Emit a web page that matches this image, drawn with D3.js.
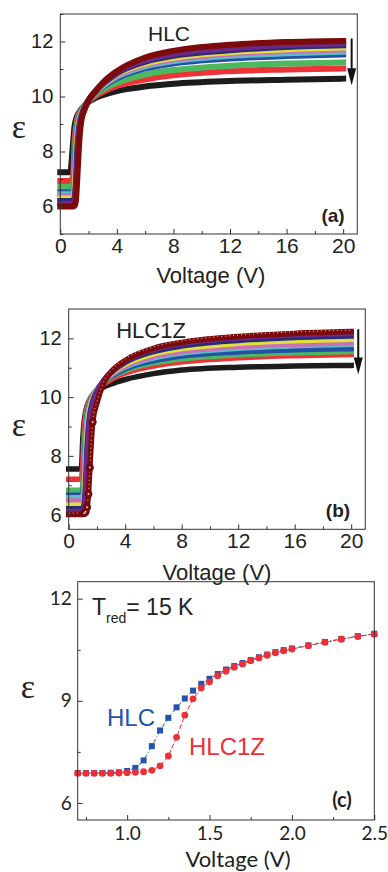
<!DOCTYPE html>
<meta charset="utf-8">
<head>
    <title>Dielectric permittivity vs voltage</title>
</head>
<style>
    body { margin: 0; background: #fff; }
    svg { display: block; }
</style>
<body>
<svg id="fig" width="388" height="872"></svg>
<script src="https://cdnjs.cloudflare.com/ajax/libs/d3/7.8.5/d3.min.js"></script>
<script>
    // voltage grid shared by the curves of panels (a) and (b)
    var voltGrid = [0, 0.7, 0.9, 1.0, 1.1, 1.2, 1.3, 1.4, 1.5, 1.7, 2, 2.5, 3, 4, 6, 8, 12, 16, 20];

    // curve colours, bottom (black) to top (maroon) at 20 V
    var curveColors = ["#1c1c1c", "#ee3237", "#4db85e", "#2251a6", "#5cbfc8",
                       "#c970b8", "#e3df3a", "#2a2a7a", "#6a2a86", "#7c0a0a"];

    // (a) HLC
    var hlcCurves = [
        [7.25, 7.25, 8.3, 8.9, 9.15, 9.3, 9.4, 9.48, 9.55, 9.65, 9.8, 9.95, 10.05, 10.2, 10.36, 10.46, 10.56, 10.61, 10.65],
        [6.93, 6.93, 7.1, 8.3, 8.9, 9.2, 9.35, 9.45, 9.52, 9.65, 9.82, 10.02, 10.16, 10.38, 10.62, 10.77, 10.92, 10.98, 11.02],
        [6.72, 6.72, 6.8, 7.6, 8.6, 9.05, 9.28, 9.4, 9.5, 9.65, 9.84, 10.08, 10.25, 10.5, 10.8, 10.96, 11.12, 11.2, 11.24],
        [6.52, 6.52, 6.55, 7.0, 8.3, 8.9, 9.2, 9.35, 9.46, 9.64, 9.86, 10.14, 10.35, 10.66, 11.02, 11.2, 11.38, 11.47, 11.53],
        [6.45, 6.45, 6.47, 6.8, 8.0, 8.75, 9.1, 9.3, 9.43, 9.62, 9.86, 10.16, 10.38, 10.72, 11.1, 11.29, 11.48, 11.57, 11.63],
        [6.37, 6.37, 6.38, 6.6, 7.7, 8.6, 9.0, 9.25, 9.4, 9.61, 9.86, 10.17, 10.4, 10.76, 11.15, 11.35, 11.55, 11.65, 11.71],
        [6.29, 6.29, 6.3, 6.45, 7.3, 8.4, 8.9, 9.2, 9.37, 9.6, 9.86, 10.18, 10.42, 10.8, 11.2, 11.41, 11.61, 11.72, 11.78],
        [6.2, 6.2, 6.2, 6.3, 6.9, 8.1, 8.75, 9.1, 9.32, 9.58, 9.86, 10.19, 10.45, 10.84, 11.26, 11.48, 11.68, 11.8, 11.86],
        [6.1, 6.1, 6.1, 6.15, 6.6, 7.7, 8.55, 9.0, 9.25, 9.55, 9.86, 10.2, 10.48, 10.88, 11.32, 11.55, 11.76, 11.87, 11.93],
        [6.0, 6.0, 6.0, 6.02, 6.2, 7.0, 8.0, 8.75, 9.15, 9.5, 9.86, 10.2, 10.5, 10.92, 11.42, 11.66, 11.88, 11.98, 12.02]
    ];

    // (b) HLC1Z
    var hlc1zCurves = [
        [7.55, 7.55, 7.6, 8.6, 9.2, 9.5, 9.7, 9.82, 9.92, 10.05, 10.2, 10.35, 10.45, 10.6, 10.8, 10.92, 11.02, 11.06, 11.08],
        [7.2, 7.2, 7.22, 7.8, 8.9, 9.4, 9.65, 9.8, 9.92, 10.08, 10.25, 10.45, 10.6, 10.82, 11.06, 11.2, 11.34, 11.41, 11.45],
        [6.83, 6.83, 6.84, 7.0, 8.2, 9.1, 9.5, 9.72, 9.86, 10.05, 10.25, 10.5, 10.67, 10.9, 11.16, 11.3, 11.44, 11.51, 11.55],
        [6.66, 6.66, 6.66, 6.75, 7.6, 8.8, 9.35, 9.62, 9.8, 10.02, 10.25, 10.52, 10.7, 10.96, 11.24, 11.4, 11.54, 11.61, 11.65],
        [6.57, 6.57, 6.57, 6.62, 7.2, 8.5, 9.2, 9.52, 9.74, 10.0, 10.25, 10.54, 10.74, 11.02, 11.33, 11.5, 11.66, 11.75, 11.8],
        [6.46, 6.46, 6.46, 6.5, 6.9, 8.1, 9.0, 9.42, 9.67, 9.96, 10.24, 10.55, 10.76, 11.06, 11.38, 11.55, 11.72, 11.8, 11.85],
        [6.32, 6.32, 6.32, 6.35, 6.6, 7.6, 8.7, 9.25, 9.57, 9.92, 10.22, 10.57, 10.8, 11.12, 11.47, 11.65, 11.83, 11.92, 11.97],
        [6.2, 6.2, 6.2, 6.22, 6.4, 7.1, 8.3, 9.0, 9.42, 9.85, 10.2, 10.58, 10.83, 11.18, 11.55, 11.74, 11.93, 12.03, 12.08],
        [6.11, 6.11, 6.11, 6.12, 6.2, 6.7, 7.8, 8.7, 9.2, 9.75, 10.15, 10.58, 10.86, 11.23, 11.62, 11.82, 12.02, 12.12, 12.17],
        [6.0, 6.0, 6.0, 6.0, 6.05, 6.1, 6.25, 6.7, 7.6, 9.15, 9.8, 10.5, 10.85, 11.25, 11.66, 11.86, 12.06, 12.17, 12.23]
    ];

    // (c) T_red = 15 K
    var cVolt = [0.70, 0.75, 0.80, 0.85, 0.90, 0.95, 1.00, 1.05, 1.10, 1.15, 1.20, 1.25, 1.30, 1.35, 1.40, 1.45,
                 1.50, 1.55, 1.60, 1.65, 1.70, 1.75, 1.80, 1.85, 1.90, 1.95, 2.00, 2.10, 2.20, 2.30, 2.40, 2.50];
    var cHLC = [6.88, 6.88, 6.88, 6.88, 6.89, 6.90, 6.94, 7.03, 7.25, 7.67, 8.13, 8.50, 8.81, 9.07, 9.30, 9.50,
                9.65, 9.79, 9.92, 10.02, 10.11, 10.20, 10.28, 10.36, 10.43, 10.49, 10.54, 10.63, 10.73, 10.82, 10.90, 10.97];
    var cHLC1Z = [6.87, 6.87, 6.87, 6.87, 6.87, 6.88, 6.89, 6.90, 6.92, 6.96, 7.09, 7.38, 7.93, 8.58, 9.06, 9.38,
                  9.56, 9.74, 9.87, 9.99, 10.08, 10.18, 10.26, 10.34, 10.41, 10.47, 10.52, 10.62, 10.72, 10.81, 10.89, 10.96];

    var axisColor = "#333";
    var svg = d3.select("#fig");

    function makePanel(o) {
        var x = d3.scaleLinear().domain(o.xDomain).range(o.xRange);
        var y = d3.scaleLinear().domain(o.yDomain).range(o.yRange);
        var g = svg.append("g");

        var plot = g.append("g");

        // ticks (inward)
        var xa = g.append("g").attr("transform", `translate(0,${o.yRange[0]})`)
            .call(d3.axisBottom(x).tickValues(o.xMinor).tickSize(-3).tickFormat(""));
        var xb = g.append("g").attr("transform", `translate(0,${o.yRange[0]})`)
            .call(d3.axisBottom(x).tickValues(o.xTicks).tickSize(-5).tickPadding(o.xPad).tickFormat(o.xFmt));
        var ya = g.append("g").attr("transform", `translate(${o.xRange[0]},0)`)
            .call(d3.axisLeft(y).tickValues(o.yMinor).tickSize(-3).tickFormat(""));
        var yb = g.append("g").attr("transform", `translate(${o.xRange[0]},0)`)
            .call(d3.axisLeft(y).tickValues(o.yTicks).tickSize(-5).tickPadding(o.yPad).tickFormat(d3.format("d")));
        [xa, xb, ya, yb].forEach(function (a) {
            a.select(".domain").remove();
            a.selectAll("line").attr("stroke", axisColor);
            a.selectAll("text").attr("fill", "#222").attr("font-family", o.font)
                .attr("font-size", a === xb ? o.xFont : o.yFont);
        });

        // frame
        g.append("rect")
            .attr("x", o.xRange[0]).attr("y", o.yRange[1])
            .attr("width", o.xRange[1] - o.xRange[0]).attr("height", o.yRange[0] - o.yRange[1])
            .attr("fill", "none").attr("stroke", axisColor).attr("stroke-width", 1);

        // axis titles
        g.append("text")
            .attr("x", (o.xRange[0] + o.xRange[1]) / 2 + o.titleDx).attr("y", o.titleY)
            .attr("text-anchor", "middle").attr("font-family", o.font)
            .attr("font-size", o.titleFont).attr("fill", "#222")
            .text("Voltage (V)");
        g.append("text")
            .attr("x", o.epsX).attr("y", o.epsY)
            .attr("text-anchor", "middle").attr("font-family", "'Liberation Serif', serif")
            .attr("font-size", 34).attr("fill", "#222")
            .text("ε");

        return { x: x, y: y, g: g, plot: plot };
    }

    function drawCurves(p, curves, width) {
        var line = d3.line()
            .curve(d3.curveMonotoneX)
            .x(function (d, i) { return p.x(voltGrid[i]); })
            .y(function (d) { return p.y(d); });
        p.plot.selectAll("path.curve")
            .data(curves)
            .enter()
            .append("path")
            .attr("class", "curve")
            .attr("d", line)
            .attr("fill", "none")
            .attr("stroke", function (d, i) { return curveColors[i]; })
            .attr("stroke-width", width)
            .attr("stroke-linecap", "square");
        return line;
    }

    function drawArrow(p, xv, y0, y1) {
        var xp = p.x(xv), top = p.y(y0), tip = p.y(y1);
        p.g.append("line")
            .attr("x1", xp).attr("x2", xp).attr("y1", top).attr("y2", tip - 14)
            .attr("stroke", "#111").attr("stroke-width", 2);
        p.g.append("path")
            .attr("d", `M${xp - 4.5},${tip - 17} L${xp + 4.5},${tip - 17} L${xp},${tip} Z`)
            .attr("fill", "#111");
    }

    function label(g, x, y, txt, size, opts) {
        opts = opts || {};
        return g.append("text")
            .attr("x", x).attr("y", y)
            .attr("font-family", opts.font || "'Liberation Sans', Arial, sans-serif")
            .attr("font-size", size)
            .attr("font-weight", opts.bold ? "bold" : "normal")
            .attr("fill", opts.color || "#222")
            .attr("text-anchor", opts.anchor || "start")
            .text(txt);
    }

    var sansFont = "'Liberation Sans', Arial, sans-serif";
    var latoFont = "Lato, 'Open Sans', sans-serif";

    // ---- panel (a)
    var pa = makePanel({
        xDomain: [0, 21], xRange: [60.3, 357.3],
        yDomain: [5, 13], yRange: [234, 14],
        xTicks: [0, 4, 8, 12, 16, 20], xMinor: [2, 6, 10, 14, 18],
        yTicks: [6, 8, 10, 12], yMinor: [5, 7, 9, 11, 13],
        xFmt: d3.format("d"), xPad: 4, yPad: 7,
        font: sansFont, xFont: 21, yFont: 20, titleFont: 22,
        titleY: 283, titleDx: 2, epsX: 19, epsY: 138
    });
    drawCurves(pa, hlcCurves, 6);
    drawArrow(pa, 20.6, 12.11, 10.41);
    label(pa.g, 169, 41, "HLC", 21, { anchor: "middle" });
    label(pa.g, 333, 222, "(a)", 19, { anchor: "middle", bold: true });

    // ---- panel (b)
    var pb = makePanel({
        xDomain: [0, 21], xRange: [68.7, 365.3],
        yDomain: [5.5, 13], yRange: [529.3, 309],
        xTicks: [0, 4, 8, 12, 16, 20], xMinor: [2, 6, 10, 14, 18],
        yTicks: [6, 8, 10, 12], yMinor: [7, 9, 11],
        xFmt: d3.format("d"), xPad: 4, yPad: 7,
        font: sansFont, xFont: 21, yFont: 20, titleFont: 22,
        titleY: 580, titleDx: 0, epsX: 19, epsY: 436
    });
    var lineB = drawCurves(pb, hlc1zCurves, 5.5);
    // maroon curve shows its circle markers: light centres along the band
    pb.plot.append("path")
        .attr("d", lineB(hlc1zCurves[hlc1zCurves.length - 1]))
        .attr("fill", "none")
        .attr("stroke", "#e8c8c8")
        .attr("stroke-width", 1)
        .attr("stroke-dasharray", "1,3")
        .attr("transform", "translate(0,-1.5)");
    var maroon = hlc1zCurves[hlc1zCurves.length - 1];
    var stepIdx = [4, 5, 6, 7, 8, 9];
    pb.plot.selectAll("circle.mk")
        .data(stepIdx)
        .enter()
        .append("circle")
        .attr("class", "mk")
        .attr("cx", function (i) { return pb.x(voltGrid[i]); })
        .attr("cy", function (i) { return pb.y(maroon[i]); })
        .attr("r", 3.6)
        .attr("fill", "#7c0a0a")
        .attr("stroke", "#5a0606")
        .attr("stroke-width", 0.8);
    pb.plot.selectAll("circle.ct")
        .data(stepIdx)
        .enter()
        .append("circle")
        .attr("class", "ct")
        .attr("cx", function (i) { return pb.x(voltGrid[i]); })
        .attr("cy", function (i) { return pb.y(maroon[i]); })
        .attr("r", 1)
        .attr("fill", "#e8c8c8");
    drawArrow(pb, 20.5, 12.31, 10.77);
    label(pb.g, 151, 338, "HLC1Z", 22, { anchor: "middle" });
    label(pb.g, 338, 517, "(b)", 19, { anchor: "middle", bold: true });

    // ---- panel (c)
    var pc = makePanel({
        xDomain: [0.7, 2.5], xRange: [77.7, 374.3],
        yDomain: [5.5, 12.5], yRange: [820, 581.7],
        xTicks: [1.0, 1.5, 2.0, 2.5], xMinor: [0.75, 1.25, 1.75, 2.25],
        yTicks: [6, 9, 12], yMinor: [7.5, 10.5],
        xFmt: d3.format(".1f"), xPad: 7, yPad: 6,
        font: latoFont, xFont: 19, yFont: 19, titleFont: 22,
        titleY: 867, titleDx: 12, epsX: 28, epsY: 698
    });

    var cLine = function (vals) {
        return d3.line()
            .x(function (d, i) { return pc.x(cVolt[i]); })
            .y(function (d) { return pc.y(d); })(vals);
    };
    var blue = "#2253ad", red = "#ee2f37";

    pc.plot.append("path").attr("d", cLine(cHLC))
        .attr("fill", "none").attr("stroke", blue).attr("stroke-width", 1)
        .attr("stroke-dasharray", "4,2,1,2");
    pc.plot.selectAll("rect.sq")
        .data(cHLC)
        .enter()
        .append("rect")
        .attr("class", "sq")
        .attr("x", function (d, i) { return pc.x(cVolt[i]) - 3; })
        .attr("y", function (d) { return pc.y(d) - 3; })
        .attr("width", 6).attr("height", 6)
        .attr("fill", blue);

    pc.plot.append("path").attr("d", cLine(cHLC1Z))
        .attr("fill", "none").attr("stroke", red).attr("stroke-width", 1)
        .attr("stroke-dasharray", "5,2");
    pc.plot.selectAll("circle.rd")
        .data(cHLC1Z)
        .enter()
        .append("circle")
        .attr("class", "rd")
        .attr("cx", function (d, i) { return pc.x(cVolt[i]); })
        .attr("cy", function (d) { return pc.y(d); })
        .attr("r", 3.4)
        .attr("fill", red);

    var tl = label(pc.g, 92, 615, "T", 23);
    tl.append("tspan").attr("font-size", 14).attr("dy", 8).text("red");
    tl.append("tspan").attr("dy", -8).text("= 15 K");
    label(pc.g, 131, 726, "HLC", 24, { anchor: "middle", color: blue });
    label(pc.g, 227, 755, "HLC1Z", 24, { anchor: "middle", color: red });
    label(pc.g, 342, 807, "(c)", 20, { anchor: "middle", bold: true, font: latoFont });
</script>
</body>
</html>
